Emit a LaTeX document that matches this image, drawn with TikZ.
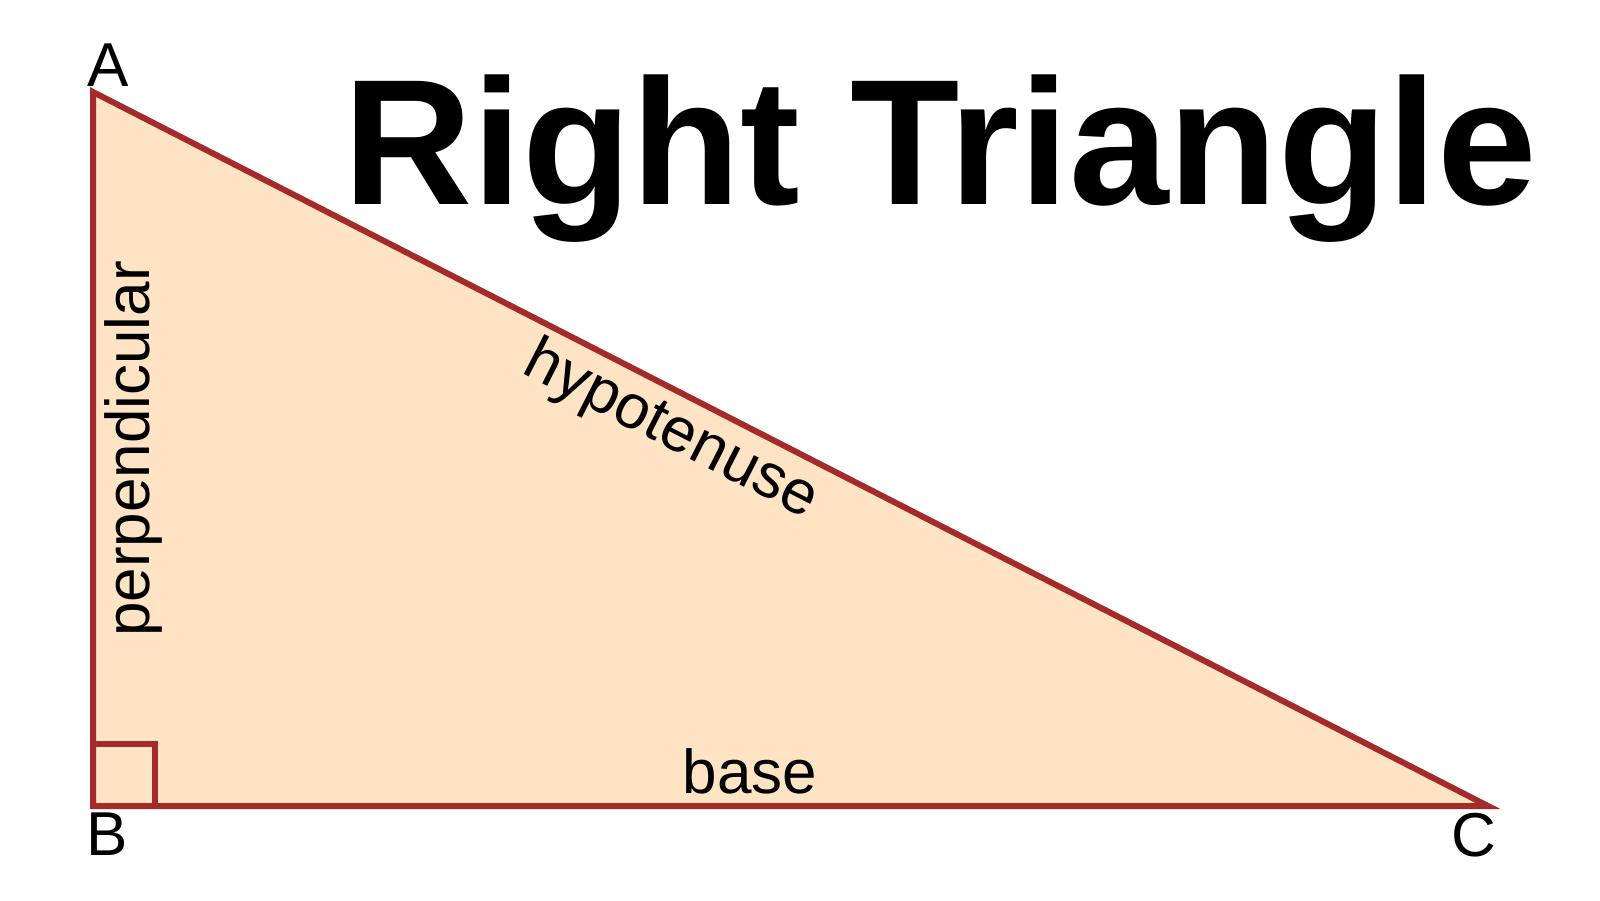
\documentclass[tikz,border=0pt]{standalone}
\usepackage{fontspec}
\setmainfont{Liberation Sans}
\definecolor{edgered}{RGB}{165,42,42}
\definecolor{peach}{RGB}{254,228,196}

\begin{document}
\begin{tikzpicture}[x=1pt, y=1pt,
    side/.style={draw=edgered, line width=6pt, line join=miter},
    corner/.style={font=\fontsize{62}{70}\selectfont, inner sep=0pt, anchor=base west},
    sidetext/.style={font=\fontsize{62}{70}\selectfont},
    heading/.style={font=\fontsize{179}{200}\selectfont\bfseries, inner sep=0pt, anchor=base west}]
  \useasboundingbox (0,0) rectangle (1600,900);
  \coordinate (A) at (93,808);
  \coordinate (B) at (93,94);
  \coordinate (C) at (1488,94);
  \path[side, fill=peach] (B) -- node[sidetext, sloped, below, inner sep=9pt] {perpendicular} (A)
        -- node[sidetext, sloped, below, pos=0.427, inner sep=7pt] {hypotenuse} (C)
        -- node[sidetext, above, pos=0.529, inner sep=9pt] {base} cycle;
  \draw[side] (B) rectangle ++(62,62);
  \node[corner] (labA) at ([shift={(-6,5)}]A) {A};
  \node[corner] (labB) at ([shift={(-7,-49)}]B) {B};
  \node[corner] (labC) at ([shift={(-37,-50)}]C) {C};
  \node[heading] (title) at (343,695) {Right Triangle};
\end{tikzpicture}
\end{document}
